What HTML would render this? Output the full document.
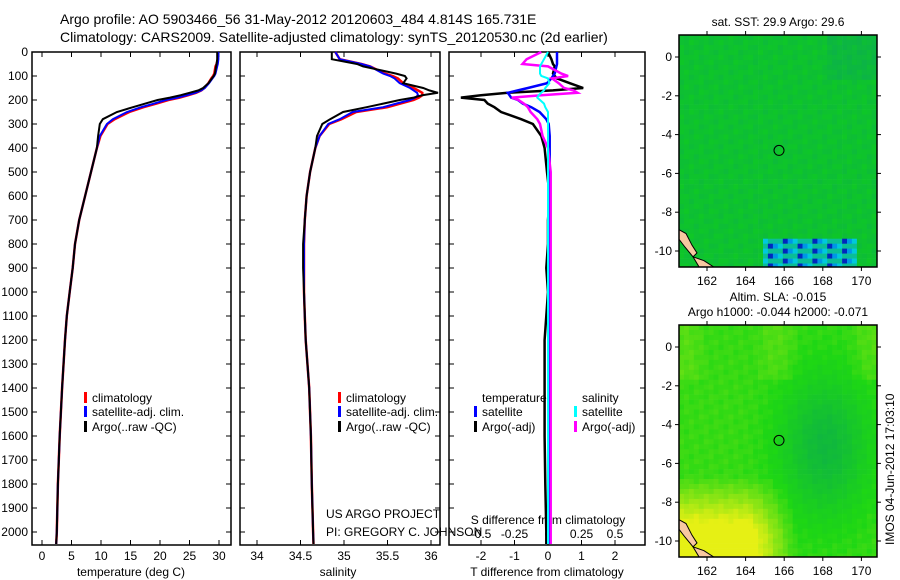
<!DOCTYPE html>
<html><head><meta charset="utf-8"><style>
body{margin:0;background:#fff}
svg{display:block;font-family:"Liberation Sans",sans-serif}
text{fill:#000}
</style></head><body>
<svg id="c" width="900" height="580">
<defs><clipPath id="mc1"><rect x="679" y="35" width="198" height="232"/></clipPath><clipPath id="mc2"><rect x="679" y="325" width="198" height="232"/></clipPath></defs>
<text x="60" y="24" font-size="14">Argo profile: AO 5903466_56 31-May-2012 20120603_484 4.814S 165.731E</text>
<text x="60" y="42" font-size="14">Climatology: CARS2009. Satellite-adjusted climatology: synTS_20120530.nc (2d earlier)</text>
<g id="g"></g>
</svg>
<script>
const depths=[0,30,50,60,90,100,110,130,150,160,170,180,190,200,215,230,250,280,300,350,400,500,600,700,800,900,1000,1100,1200,1400,1600,1800,2000,2050];
const argoT=[29.7,29.7,29.6,29.5,29.3,29.1,28.8,28.2,27.3,26.5,25.0,23.5,21.7,19.6,17.5,15.4,12.7,10.3,9.8,9.5,9.3,8.3,7.3,6.3,5.6,5.2,4.7,4.2,3.9,3.4,3.0,2.7,2.5,2.4];
const satT=[29.9,29.9,29.8,29.7,29.4,29.2,28.9,28.3,27.6,27.0,26.0,24.6,23.0,21.0,19.0,16.8,14.4,12.0,11.0,9.8,9.3,8.3,7.3,6.3,5.6,5.2,4.7,4.2,3.9,3.4,3.0,2.7,2.5,2.4];
const climT=[29.8,29.8,29.6,29.4,29.2,29.0,28.7,28.2,27.5,27.0,26.1,24.8,23.3,21.4,19.4,17.2,14.8,12.3,11.1,9.9,9.3,8.3,7.3,6.3,5.6,5.2,4.7,4.2,3.9,3.4,3.0,2.7,2.5,2.4];
const argoS=[34.86,34.86,35.15,35.22,35.6,35.7,35.72,35.68,35.91,35.98,36.08,35.9,35.8,35.64,35.45,35.26,34.99,34.84,34.75,34.69,34.67,34.61,34.57,34.55,34.53,34.53,34.54,34.55,34.56,34.6,34.62,34.63,34.645,34.65];
const satS=[34.9,34.95,35.2,35.3,35.45,35.53,35.58,35.64,35.76,35.8,35.84,35.85,35.82,35.76,35.6,35.45,35.1,34.95,34.82,34.72,34.67,34.61,34.57,34.55,34.54,34.54,34.54,34.55,34.56,34.6,34.62,34.63,34.645,34.65];
const climS=[34.9,34.95,35.2,35.3,35.47,35.56,35.62,35.68,35.8,35.85,35.9,35.9,35.86,35.8,35.65,35.5,35.14,34.97,34.83,34.72,34.67,34.61,34.57,34.55,34.54,34.54,34.54,34.55,34.56,34.6,34.62,34.63,34.645,34.65];
const argoTdiff=[0,0.1,0.15,0.2,0.15,0.2,0.27,0.65,1.05,0.15,-1.2,-2.0,-2.6,-1.9,-1.8,-1.6,-1.4,-0.8,-0.45,-0.2,-0.1,-0.03,0.05,0,0,-0.05,0,-0.05,-0.1,-0.1,-0.1,-0.08,-0.05,-0.05];
const satTdiff=[0.27,0.27,0.27,0.25,0.2,0.15,0.1,-0.03,-0.6,-0.9,-1.2,-1.15,-1.1,-0.9,-0.75,-0.5,-0.25,-0.05,0.02,0.05,0.05,0.05,0.04,0.04,0.04,0.03,0.03,0.03,0.02,0.02,0.02,0.02,0.02,0.02];
const satSdiff=[0,-0.03,-0.05,-0.06,-0.06,-0.05,0,0.01,-0.02,-0.03,-0.05,-0.07,-0.08,-0.06,-0.03,-0.02,0,0,0,0,0,0,0,0,0,0,0,0,0,0,0,0,0,0];
const argoSdiff=[-0.05,-0.16,-0.19,0,0.1,0.15,0.03,0.08,0.12,0.19,0.22,-0.05,-0.27,-0.22,-0.18,-0.15,-0.13,-0.08,-0.06,-0.04,0,0.02,0.02,0.02,0.02,0.02,0.02,0.02,0.02,0.02,0.02,0.02,0.02,0.02];
const depthTicks=[0,100,200,300,400,500,600,700,800,900,1000,1100,1200,1300,1400,1500,1600,1700,1800,1900,2000];
const tempTicks=[0,5,10,15,20,25,30];
const salTicks=[34,34.5,35,35.5,36];
const tdTicks=[-2,-1,0,1,2];
const sdTicks=[-0.5,-0.25,0,0.25,0.5];
const lonTicks=[162,164,166,168,170];
const latTicks=[0,-2,-4,-6,-8,-10];
const argoLon=165.731, argoLat=-4.814;

const NS='http://www.w3.org/2000/svg';
const G=document.getElementById('g');
function el(t,a,p){const e=document.createElementNS(NS,t);for(const k in a)e.setAttribute(k,a[k]);(p||G).appendChild(e);return e;}
const yD=d=>52+d*0.24;
const xT=t=>42+t*5.9;
const xS=s=>257+(s-34)*87;
const xTd=v=>548+v*33.5;
const xSd=v=>548+v*134;
function line(xs,fx,color,w,name){
  const pts=xs.map((v,i)=>fx(v).toFixed(1)+','+yD(depths[i]).toFixed(1)).join(' ');
  const p=el('polyline',{points:pts,fill:'none',stroke:color,'stroke-width':w});
  
  
}
function txt(x,y,s,opts,p){const t=el('text',Object.assign({x:x,y:y,'font-size':12},opts||{}),p);t.textContent=s;return t;}
function panel(x0,x1,name){
  const r=el('rect',{x:x0,y:52,width:x1-x0,height:493,fill:'#fff',stroke:'#000','stroke-width':1.5});
  
  
  depthTicks.forEach(d=>{el('line',{x1:x0,x2:x0+5,y1:yD(d),y2:yD(d),stroke:'#000'});el('line',{x1:x1-5,x2:x1,y1:yD(d),y2:yD(d),stroke:'#000'});});
}
depthTicks.forEach(d=>{const t=txt(28,yD(d)+4,String(d),{'text-anchor':'end'});});
panel(32,231,'temperature-panel');
tempTicks.forEach(v=>{el('line',{x1:xT(v),x2:xT(v),y1:52,y2:57,stroke:'#000'});el('line',{x1:xT(v),x2:xT(v),y1:540,y2:545,stroke:'#000'});const t=txt(xT(v),560,String(v),{'text-anchor':'middle'});});
txt(131,576,'temperature (deg C)',{'text-anchor':'middle'});
line(climT,xT,'#f00',2.5,'climatology-temperature-line');
line(satT,xT,'#00f',2,'satellite-temperature-line');
line(argoT,xT,'#000',2,'argo-temperature-line');
panel(240,440,'salinity-panel');
salTicks.forEach(v=>{el('line',{x1:xS(v),x2:xS(v),y1:52,y2:57,stroke:'#000'});el('line',{x1:xS(v),x2:xS(v),y1:540,y2:545,stroke:'#000'});const t=txt(xS(v),560,String(v),{'text-anchor':'middle'});});
txt(338,576,'salinity',{'text-anchor':'middle'});
line(climS,xS,'#f00',2.5,'climatology-salinity-line');
line(satS,xS,'#00f',2,'satellite-salinity-line');
line(argoS,xS,'#000',2,'argo-salinity-line');
panel(449,645,'difference-panel');
tdTicks.forEach(v=>{el('line',{x1:xTd(v),x2:xTd(v),y1:540,y2:545,stroke:'#000'});const t=txt(xTd(v),560,String(v),{'text-anchor':'middle'});});
sdTicks.forEach(v=>{el('line',{x1:xSd(v),x2:xSd(v),y1:52,y2:57,stroke:'#000'});const t=txt(xSd(v),538,String(v),{'text-anchor':'middle'});});
txt(547,576,'T difference from climatology',{'text-anchor':'middle'});
txt(548,524,'S difference from climatology',{'text-anchor':'middle'});
line(argoTdiff,xTd,'#000',2.5,'argo-tdiff-line');
line(satTdiff,xTd,'#00f',2.5,'satellite-tdiff-line');
line(argoSdiff,xSd,'#f0f',2.5,'argo-sdiff-line');
line(satSdiff,xSd,'#0ff',2,'satellite-sdiff-line');
function leg(x,y,c,s,n){el('rect',{x:x,y:y-10,width:3,height:11,fill:c});const t=txt(x+8,y,s);}
leg(84,402,'#f00','climatology','legend-climatology');
leg(84,416,'#00f','satellite-adj. clim.','legend-satellite');
leg(84,431,'#000','Argo(..raw -QC)','legend-argo');
leg(338,402,'#f00','climatology','legend-climatology-2');
leg(338,416,'#00f','satellite-adj. clim.','legend-satellite-2');
leg(338,431,'#000','Argo(..raw -QC)','legend-argo-2');
txt(482,402,'temperature');txt(582,402,'salinity');
leg(474,416,'#00f','satellite','legend-t-satellite');
leg(474,431,'#000','Argo(-adj)','legend-t-argo');
leg(574,416,'#0ff','satellite','legend-s-satellite');
leg(574,431,'#f0f','Argo(-adj)','legend-s-argo');
txt(326,518,'US ARGO PROJECT');
txt(326,536,'PI: GREGORY C. JOHNSON');

const xL=l=>707+(l-162)*19.3;
function mix(a,b,t){t=Math.max(0,Math.min(1,t));return a.map((v,i)=>Math.round(v+(b[i]-v)*t));}
function rgb(c){return 'rgb('+c.join(',')+')';}
function map(y0,title,name,kind,clip){
  const yl=v=>y0+22+(-v)*19.4;
  const g=el('g',{});
  
  
  const cg=el('g',{'clip-path':'url(#'+clip+')'},g);
  for(let i=0;i<41;i++)for(let j=0;j<48;j++){
    const lon=160.55+i*0.256, lat=1.13-j*0.256;
    const n=Math.sin(i*1.7+j*0.9)*Math.cos(i*0.63-j*1.37)*0.5+0.5;
    let c;
    if(kind==='sst'){
      c=mix([16,210,20],[12,180,70],0.35+n*0.4+(lon>168&&lat>-1?0.3:0));
      if(lat<-9.3&&lon>164.8&&lon<169.6){
        const k=(i*7+j*3)%6;
        c=k===0?[0,40,190]:k===1?[0,150,230]:k===2?[0,200,220]:[10,190,150];
      }
    }else{
      let v=1.05+0.15*n;
      if(lat>-1.5) v+=0.15*Math.max(0,Math.sin(lon*1.3));
      const dr=Math.exp(-(((lon-168)/2.2)**2+((lat+5)/3.5)**2));
      v-=0.8*dr;
      const ylw=Math.max(0,Math.min(1,(-lat-6.5)/3))*Math.max(0,Math.min(1,(166.5-lon)/2.5));
      v+=1.1*ylw;
      c=v<1?mix([10,170,80],[30,215,20],v):mix([30,215,20],[230,240,20],v-1);
    }
    el('rect',{x:xL(lon).toFixed(1),y:yl(lat).toFixed(1),width:5.3,height:5.3,fill:rgb(c)},cg);
  }
  el('path',{d:`M679 ${yl(-8.9)} L686 ${yl(-9.1)} L692 ${yl(-9.7)} L697 ${yl(-10.1)} L693 ${yl(-10.3)} L685 ${yl(-9.8)} L679 ${yl(-9.4)}Z`,fill:'#f8c8a0',stroke:'#000','stroke-width':1},cg);
  el('path',{d:`M693 ${yl(-10.3)} L704 ${yl(-10.5)} L716 ${yl(-10.9)} L700 ${yl(-10.9)}Z`,fill:'#f8c8a0',stroke:'#000','stroke-width':1},cg);
  el('rect',{x:679,y:y0,width:198,height:232,fill:'none',stroke:'#000','stroke-width':1.5},g);
  lonTicks.forEach(v=>{el('line',{x1:xL(v),x2:xL(v),y1:y0,y2:y0-4,stroke:'#000'},g);el('line',{x1:xL(v),x2:xL(v),y1:y0+232,y2:y0+236,stroke:'#000'},g);txt(xL(v),y0+250,String(v),{'text-anchor':'middle'},g);});
  latTicks.forEach(v=>{el('line',{x1:675,x2:679,y1:yl(v),y2:yl(v),stroke:'#000'},g);el('line',{x1:877,x2:881,y1:yl(v),y2:yl(v),stroke:'#000'},g);txt(672,yl(v)+4,String(v),{'text-anchor':'end'},g);});
  const c=el('circle',{cx:xL(argoLon),cy:yl(argoLat),r:5,fill:'none',stroke:'#000'},g);
  
  
  const n=title.length;
  title.forEach((s,k)=>{txt(778,y0-9-(n-1-k)*15,s,{'text-anchor':'middle'},g);});
}
map(35,['sat. SST: 29.9 Argo: 29.6'],'sst-map','sst','mc1');
map(325,['Altim. SLA: -0.015','Argo h1000: -0.044 h2000: -0.071'],'sla-map','sla','mc2');
const v=txt(0,0,'IMOS 04-Jun-2012 17:03:10',{transform:'translate(894,545) rotate(-90)'});


</script>
</body></html>
